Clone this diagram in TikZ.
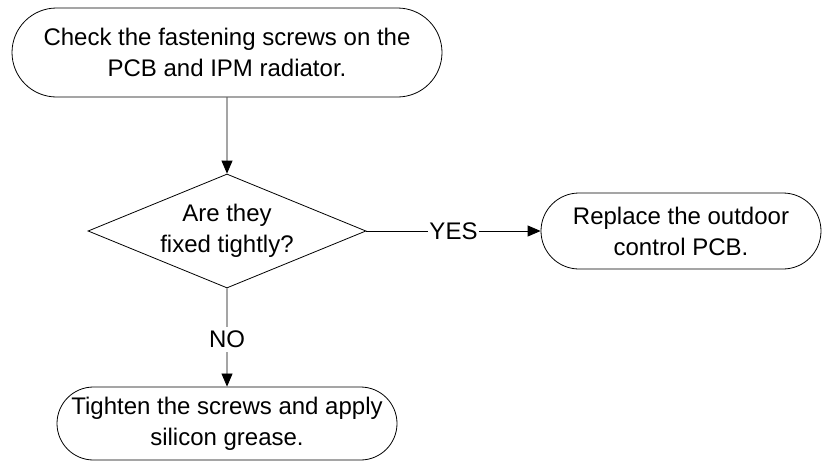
\documentclass[tikz,border=0pt]{standalone}
\usepackage{fontspec}
\setmainfont{Liberation Sans}
\usepackage{tikz}
\usetikzlibrary{arrows.meta,shapes.geometric,shapes.misc}

\begin{document}
\begin{tikzpicture}[-{Triangle[length=13pt,width=11pt]}, line width=0.8pt,
    font=\fontsize{24pt}{31pt}\selectfont]
  \tikzstyle{term}=[draw, rounded rectangle, align=center, inner sep=0pt]
  \tikzstyle{ask}=[draw, diamond, aspect=2.44, align=center, inner sep=0pt,
    minimum width=278pt, minimum height=114pt]
  \tikzstyle{lbl}=[fill=white, inner sep=1pt]

  \useasboundingbox (0,0) rectangle (823pt,-461pt);

  \node[term, minimum width=430pt, minimum height=89pt] (check) at (227pt,-52.5pt)
    {Check the fastening screws on the\\PCB and IPM radiator.};
  \node[ask] (test) [below of=check, node distance=178.5pt]
    {Are they\\fixed tightly?};
  \node[term, minimum width=280pt, minimum height=76pt] (replace)
    [right of=test, node distance=454pt]
    {Replace the outdoor\\control PCB.};
  \node[term, minimum width=340pt, minimum height=73pt] (tighten)
    [below of=test, node distance=192.5pt]
    {Tighten the screws and apply\\silicon grease.};

  \draw (check) -- (test);
  \draw (test) -- node[lbl] {YES} (replace);
  \draw (test) -- node[lbl, pos=0.52, inner sep=4pt] {NO} (tighten);

\end{tikzpicture}
\end{document}
